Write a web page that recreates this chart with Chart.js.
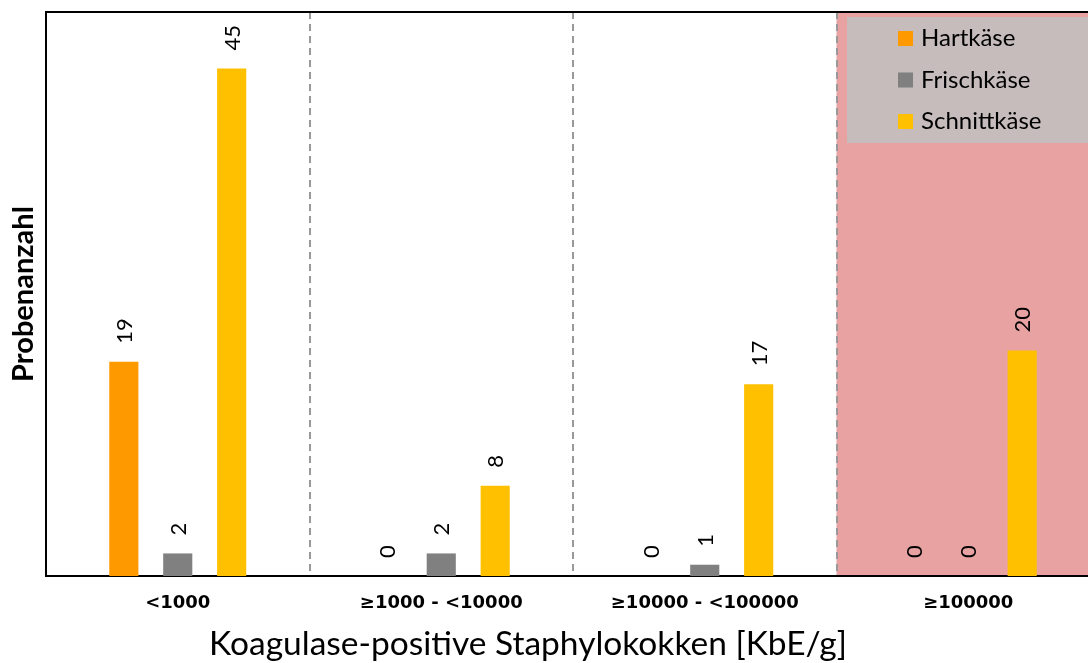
<!DOCTYPE html>
<html>
<head>
<meta charset="utf-8">
<script src="https://cdn.jsdelivr.net/npm/chart.js@4/dist/chart.umd.min.js"></script>
<style>
  body { margin: 0; overflow: hidden; background: #fff; }
  #wrap { width: 1100px; height: 663px; position: relative; }
</style>
</head>
<body>
<div id="wrap"><canvas id="myChart"></canvas></div>
<script>
// categories on the x axis
var categories = ["<1000", "≥1000 - <10000", "≥10000 - <100000", "≥100000"];
// sample counts per cheese type
var hartkaese = [19, 0, 0, 0];
var frischkaese = [2, 2, 1, 0];
var schnittkaese = [45, 8, 17, 20];
var seriesNames = ["Hartkäse", "Frischkäse", "Schnittkäse"];
var seriesColors = ["#FF9900", "#808080", "#FFC000"];
// the highlighted (critical) category
var criticalCategory = "≥100000";

// pink background behind the critical category + top border line
var backgroundPlugin = {
  id: "bgBand",
  beforeDraw: function (chart) {
    var ctx = chart.ctx;
    var area = chart.chartArea;
    var x = chart.scales.x;
    var idx = categories.indexOf(criticalCategory);
    var half = (x.getPixelForValue(1) - x.getPixelForValue(0)) / 2;
    var center = x.getPixelForValue(idx);
    ctx.save();
    ctx.fillStyle = "#E8A2A2";
    ctx.fillRect(center - half, area.top, half * 2, area.bottom - area.top);
    ctx.restore();
  },
  afterDraw: function (chart) {
    var ctx = chart.ctx;
    var area = chart.chartArea;
    ctx.save();
    ctx.strokeStyle = "#000";
    ctx.lineWidth = 2;
    ctx.beginPath();
    ctx.moveTo(area.left, area.top);
    ctx.lineTo(area.right, area.top);
    ctx.stroke();
    ctx.restore();
  }
};

// rotated value labels above every bar
var valueLabels = {
  id: "valueLabels",
  afterDatasetsDraw: function (chart) {
    var ctx = chart.ctx;
    ctx.save();
    ctx.font = "22px Lato";
    ctx.fillStyle = "#000";
    chart.data.datasets.forEach(function (ds, i) {
      var meta = chart.getDatasetMeta(i);
      meta.data.forEach(function (bar, j) {
        ctx.save();
        ctx.translate(bar.x + 1, bar.y - 18);
        ctx.rotate(-Math.PI / 2);
        ctx.textAlign = "left";
        ctx.textBaseline = "middle";
        ctx.fillText(String(ds.data[j]), 0, 0);
        ctx.restore();
      });
    });
    ctx.restore();
  }
};

// legend box in the top right corner + x axis title
var legendAndTitle = {
  id: "legendAndTitle",
  afterDraw: function (chart) {
    var ctx = chart.ctx;
    var area = chart.chartArea;
    var lx = area.right - 253;
    var ly = area.top + 5;
    ctx.save();
    ctx.fillStyle = "#C5BCBB";
    ctx.fillRect(lx, ly, 260, 126);
    ctx.font = "24px Lato";
    ctx.textBaseline = "middle";
    ctx.textAlign = "left";
    chart.data.datasets.forEach(function (ds, i) {
      var cy = ly + 21.5 + i * 41.5;
      ctx.fillStyle = ds.backgroundColor;
      ctx.fillRect(lx + 51, cy - 7.5, 15, 15);
      ctx.fillStyle = "#000";
      ctx.fillText(ds.label, lx + 74, cy);
    });

    // x axis title (sits a bit left of the plot centre in the original)
    ctx.font = "33.5px Lato";
    ctx.textAlign = "center";
    ctx.fillText("Koagulase-positive Staphylokokken [KbE/g]", 528, 644);
    ctx.restore();
  }
};

var ctx = document.getElementById("myChart").getContext("2d");
var chart = new Chart(ctx, {
  type: "bar",
  data: {
    labels: categories,
    datasets: [
      { label: seriesNames[0], data: hartkaese, backgroundColor: seriesColors[0] },
      { label: seriesNames[1], data: frischkaese, backgroundColor: seriesColors[1] },
      { label: seriesNames[2], data: schnittkaese, backgroundColor: seriesColors[2] }
    ]
  },
  options: {
    responsive: true,
    maintainAspectRatio: false,
    animation: false,
    categoryPercentage: 0.614,
    barPercentage: 0.54,
    layout: { padding: { top: 12, right: 0, bottom: 0, left: 0 } },
    plugins: {
      legend: { display: false },
      tooltip: { enabled: false }
    },
    scales: {
      x: {
        offset: true,
        grid: { display: true, offset: true, drawTicks: false, color: "#999", lineWidth: 2 },
        border: { display: true, color: "#000", width: 2, dash: [7, 5] },
        ticks: {
          padding: 17,
          color: "#000",
          font: { family: "DejaVu Sans", size: 18, weight: "bold" },
          maxRotation: 0
        },
        afterFit: function (scale) { scale.height = 87; }
      },
      y: {
        min: 0,
        max: 50,
        grid: { display: false },
        border: { display: true, color: "#000", width: 2 },
        ticks: { display: false },
        title: {
          display: true,
          text: "Probenanzahl",
          color: "#000",
          font: { family: "Lato", size: 29, weight: "bold" },
          padding: { top: 6, bottom: 0 }
        },
        afterFit: function (scale) { scale.width = 46; }
      }
    }
  },
  plugins: [backgroundPlugin, valueLabels, legendAndTitle]
});
</script>
</body>
</html>
